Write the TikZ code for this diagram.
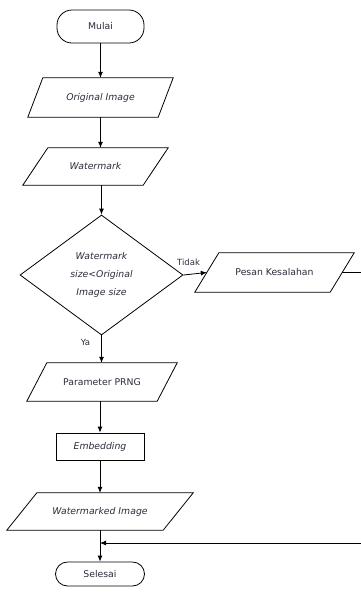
\documentclass[tikz,border=0pt]{standalone}
\usepackage{fontspec}
\setmainfont{DejaVu Sans}
\usetikzlibrary{shapes.geometric,arrows.meta}
\definecolor{txt}{RGB}{45,45,60}
\newcommand\iobox[2]{\draw[boxline] (#1.south west) -- ([xshift=#2]#1.north west) -- (#1.north east) -- ([xshift=-#2]#1.south east) -- cycle;}
\begin{document}
\begin{tikzpicture}[x=1pt,y=-1pt,
  boxline/.style={draw=black,line width=0.8pt},
  basefont/.style={text=txt,font=\fontsize{9.3}{11}\selectfont},
  terminal/.style={boxline,basefont,inner sep=0pt},
  iobox/.style={basefont,inner sep=0pt},
  procbox/.style={boxline,basefont,inner sep=0pt},
  decision/.style={diamond,boxline,inner sep=0pt,aspect=1.36,align=center,text=txt,font=\fontsize{9.3}{18}\selectfont\itshape},
  lab/.style={text=txt,font=\fontsize{8.5}{10}\selectfont,inner sep=0pt},
  conn/.style={line width=0.8pt,-{Latex[length=6pt,width=5pt]}},
  plain/.style={line width=0.8pt}]
\useasboundingbox (0,0) rectangle (361,595);
\clip (0,0) rectangle (361,595);
\fill[white] (0,0) rectangle (361,595);

\node[terminal,minimum width=87,minimum height=33,rounded corners=15pt] (mulai) at (100.5,26.5) {Mulai};
\node[iobox,minimum width=145,minimum height=39] (oi) at (100.5,97.5) {\itshape Original Image};
\iobox{oi}{15}
\node[iobox,minimum width=145,minimum height=37] (wm) at (95.5,166.5) {\itshape Watermark};
\iobox{wm}{25}
\node[decision,minimum width=163,minimum height=120] (dec) at (101.5,275) {Watermark\\size<Original\\Image size};
\node[iobox,minimum width=159,minimum height=39] (pk) at (274.5,272.5) {Pesan Kesalahan};
\iobox{pk}{24}
\node[iobox,minimum width=150,minimum height=38] (pp) at (102,382) {Parameter PRNG};
\iobox{pp}{20}
\node[procbox,minimum width=88,minimum height=27] (emb) at (100,446.5) {\itshape Embedding};
\node[iobox,minimum width=186,minimum height=37] (wi) at (100,511.5) {\itshape Watermarked Image};
\iobox{wi}{30}
\node[terminal,minimum width=89,minimum height=24,rounded corners=12pt] (sel) at (100,574) {Selesai};

\node[lab] (ya) at (85.5,342) {Ya};
\node[lab] (tidak) at (188.5,262) {Tidak};
\coordinate (j) at (100,543);

\draw[conn] (mulai) -- (mulai |- oi.north);
\draw[conn] (oi.south) -- (oi.south |- wm.north);
\draw[conn] (dec.north |- wm.south) -- (dec.north);
\draw[conn] (dec.south) -- (dec.south |- pp.north);
\draw[conn] (dec.east) -- ([xshift=12]pk.west);
\draw[conn] (pp.south -| emb.north) -- (emb.north);
\draw[conn] (emb.south) -- (wi.north);
\draw[conn] (wi.south) -- (sel.north);
\draw[conn] ([xshift=-12]pk.east) -- (pk.east -| 366,0) -- (366,543) -- (j);
\end{tikzpicture}
\end{document}
